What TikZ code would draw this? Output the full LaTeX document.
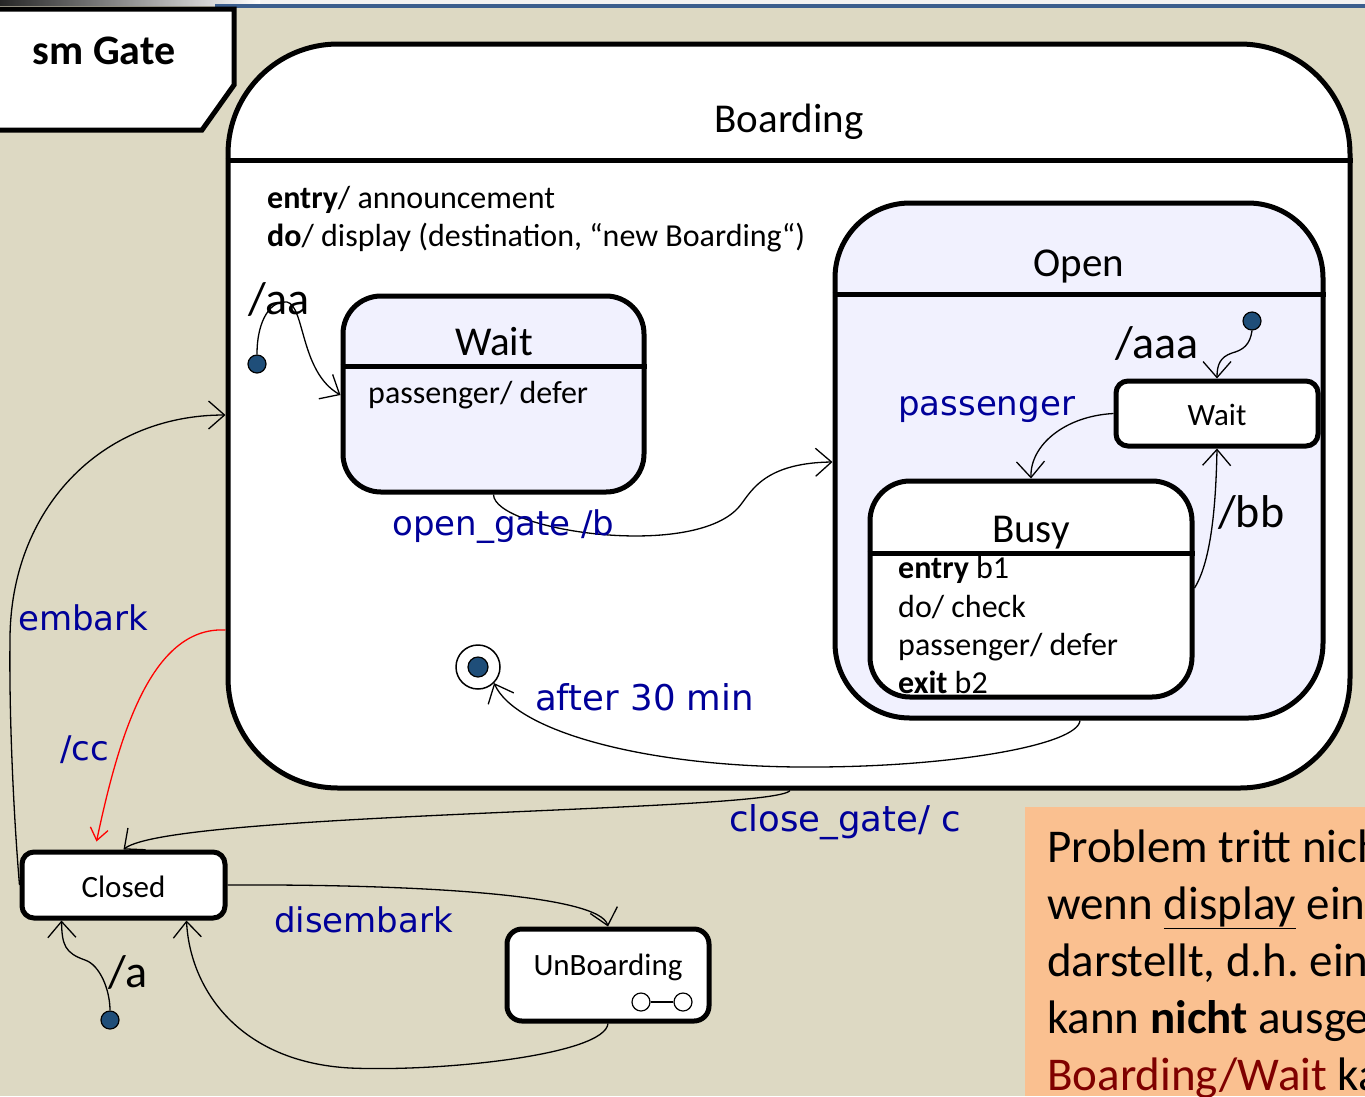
\documentclass[tikz,border=0pt]{standalone}
\usepackage{fontspec}
\setmainfont{Carlito}
\newfontfamily\handfont{DejaVu Sans}
\usetikzlibrary{arrows.meta,calc}
\definecolor{canvas}{HTML}{DDD9C3}
\definecolor{substate}{HTML}{F1F1FE}
\definecolor{pseudo}{HTML}{1F4E79}
\definecolor{guard}{HTML}{000099}
\definecolor{notefill}{HTML}{FAC090}
\definecolor{noteaccent}{HTML}{7F0000}
\definecolor{ribbon}{HTML}{3B5E8E}
\newcommand\fsz[2]{\fontsize{#1}{#2}\selectfont}
\frenchspacing
\tikzset{
  statebox/.style={draw, line width=5pt, fill=white, inner sep=0pt},
  divider/.style={line width=5pt},
  trans/.style={line width=1.3pt, -{Straight Barb[length=16pt,width=28pt]}},
  guardtxt/.style={text=guard, font=\handfont\fsz{34}{40}, anchor=base west, inner sep=0pt},
  acttxt/.style={font=\fsz{46}{52}, anchor=base west, inner sep=0pt},
  bodytxt/.style={font=\fsz{32}{38}, anchor=base west, inner sep=0pt},
  titletxt/.style={font=\fsz{41}{48}, anchor=base, inner sep=0pt},
  smalltitle/.style={font=\fsz{31}{36}, anchor=base, inner sep=0pt},
  notetxt/.style={font=\fsz{47}{56}, anchor=base west, inner sep=0pt},
  initial/.style={circle, draw, line width=1.2pt, fill=pseudo, minimum size=18pt, inner sep=0pt},
  hub/.style={circle, draw, line width=1.2pt, fill=white, minimum size=18pt, inner sep=0pt},
}
\begin{document}
\begin{tikzpicture}[x=1pt,y=-1pt]
\useasboundingbox (0,0) rectangle (1365,1096);
\fill[canvas] (0,0) rectangle (1365,1096);
% header strip
\fill[gray!10] (0,0) rectangle (1365,5);
\shade[left color=black!85, right color=white] (0,0) rectangle (260,5);
\fill[ribbon] (215,4) rectangle (1365,8);

% diagram frame label
\draw[line width=5pt, fill=white] (-10,9) -- (234,9) -- (234,85) -- (202,130) -- (-10,130) -- cycle;
\node[font=\bfseries\fsz{42}{48}, anchor=base, inner sep=0pt] (frame) at (104,64) {sm Gate};

% composite state Boarding
\node[statebox, rounded corners=110pt, minimum width=1122pt, minimum height=744pt] (boarding) at (789,416) {};
\draw[divider] (boarding.west |- 0,160) -- (boarding.east |- 0,160);
\node[titletxt] (boardingT) at (789,132) {Boarding};
\node[bodytxt] (bentry) at (267,208) {\textbf{entry}/ announcement};
\node[bodytxt] (bdo) at (267,246) {\textbf{do}/ display (destination, “new Boarding“)};

% Boarding / Wait
\node[statebox, fill=substate, rounded corners=38pt, minimum width=301pt, minimum height=196pt] (wait) at (493.5,394) {};
\draw[divider] (wait.west |- 0,366) -- (wait.east |- 0,366);
\node[titletxt] (waitT) at (494,355) {Wait};
\node[bodytxt] (waitD) at (368,403) {passenger/ defer};

% Open with its substates
\node[statebox, fill=substate, rounded corners=75pt, minimum width=488pt, minimum height=515pt] (open) at (1079,460.5) {};
\draw[divider] (open.west |- 0,294) -- (open.east |- 0,294);
\node[titletxt] (openT) at (1079,276) {Open};

\node[statebox, rounded corners=12pt, minimum width=202pt, minimum height=65pt] (wait2) at (1217,413.5) {};
\node[smalltitle] (wait2T) at (1217,425) {Wait};

\node[statebox, rounded corners=40pt, minimum width=322pt, minimum height=216pt] (busy) at (1031,589) {};
\draw[divider] (busy.west |- 0,553) -- (busy.east |- 0,553);
\node[titletxt] (busyT) at (1031,542) {Busy};
\node[bodytxt] (busy1) at (898,578) {\textbf{entry} b1};
\node[bodytxt] (busy2) at (898,617) {do/ check};
\node[bodytxt] (busy3) at (898,655) {passenger/ defer};
\node[bodytxt] (busy4) at (898,693) {\textbf{exit} b2};

% Closed and UnBoarding
\node[statebox, rounded corners=12pt, minimum width=203pt, minimum height=66pt] (closed) at (123.5,885) {};
\node[smalltitle] (closedT) at (123.5,897) {Closed};
\node[statebox, rounded corners=15pt, minimum width=202pt, minimum height=92pt] (unb) at (608,975) {};
\node[smalltitle] (unbT) at (608,975) {UnBoarding};
\node[hub] (hubl) at (641,1002) {};
\node[hub] (hubr) at (683,1002) {};
\draw[line width=1.2pt] (hubl) -- (hubr);

% pseudostates
\node[initial] (ini1) at (257,364) {};
\node[initial] (ini2) at (1252,321) {};
\node[initial] (ini3) at (110,1020) {};
\node[circle, draw, line width=1.5pt, fill=white, minimum size=44pt, inner sep=0pt] (final) at (478,667) {};
\node[circle, draw, line width=1.2pt, fill=pseudo, minimum size=20pt, inner sep=0pt] (finaldot) at (478,667) {};

% transitions
\draw[trans] (ini1.north) .. controls (257,318) and (272,300) .. (287,302)
  .. controls (305,306) and (300,372) .. (wait.west |- 0,395);
\draw[trans] (wait.south) .. controls (494,530) and (690,560) .. (738,508)
  .. controls (750,495) and (760,463) .. (open.west |- 0,462);
\draw[trans] (wait2.west) .. controls (1065,416) and (1030,445) .. (busy.north);
\draw[trans] (ini2.south) .. controls (1250,345) and (1243,350) .. (1232,353)
  .. controls (1220,357) and (1217,365) .. (wait2.north);
\draw[trans] (busy.east |- 0,588) .. controls (1212,560) and (1216,500) .. (wait2.south);
\draw[trans] (open.south -| 1080,0) .. controls (1078,745) and (950,768) .. (800,767)
  .. controls (640,766) and (515,730) .. (final.south east);
\draw[trans] (closed.west) .. controls (14,820) and (9,720) .. (10,640)
  .. controls (10,510) and (100,415) .. (boarding.west |- 0,415);
\draw[red, line width=1.3pt, -{Straight Barb[length=12pt,width=18pt]}]
  (boarding.west |- 0,630) .. controls (150,626) and (118,740) .. ($(closed.north)+(-27,-8)$);
\draw[trans] (boarding.south -| 790,0) .. controls (775,812) and (170,812) .. (closed.north);
\draw[trans] (closed.east) .. controls (420,884) and (600,895) .. (unb.north);
\draw[trans] (unb.south) .. controls (605,1055) and (440,1072) .. (350,1068)
  .. controls (240,1062) and (190,990) .. ($(closed.south)+(63,0)$);
\draw[trans] (ini3.north) .. controls (110,990) and (100,965) .. (85,960)
  .. controls (65,953) and (62,945) .. ($(closed.south)+(-62,0)$);

% transition labels
\node[acttxt] (laa) at (248,314) {/aa};
\node[acttxt] (laaa) at (1115,358) {/aaa};
\node[acttxt] (lbb) at (1218,527) {/bb};
\node[acttxt] (la) at (108,987) {/a};
\node[guardtxt] (lopen) at (392,535) {open\_gate /b};
\node[guardtxt] (lpass) at (898,415) {passenger};
\node[guardtxt, font=\handfont\fsz{35.5}{40}] (lafter) at (535,710) {after 30 min};
\node[guardtxt] (lembark) at (18,630) {embark};
\node[guardtxt] (lcc) at (60,760) {/cc};
\node[guardtxt, font=\handfont\fsz{35.5}{40}] (lclose) at (729,831) {close\_gate/ c};
\node[guardtxt] (ldis) at (274,932) {disembark};

% remark box
\begin{scope}
\clip (1025,807) rectangle (1365,1096);
\fill[notefill] (1025,807) rectangle (1365,1096);
\node[notetxt] (n1) at (1047,862) {Problem tritt nich};
\node[notetxt] (n2) at (1047,919) {wenn \underline{display} ein};
\node[notetxt] (n3) at (1047,976) {darstellt, d.h. ein};
\node[notetxt] (n4) at (1047,1033) {kann \textbf{nicht} ausge};
\node[notetxt] (n5) at (1047,1090) {\textcolor{noteaccent}{Boarding/Wait} ka};
\end{scope}
\end{tikzpicture}
\end{document}
